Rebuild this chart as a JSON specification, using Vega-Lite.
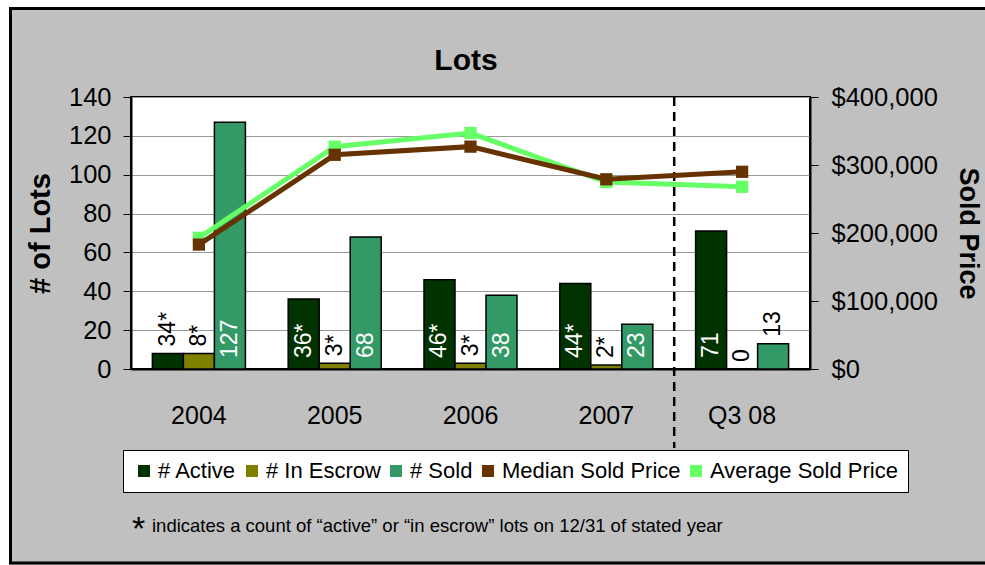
{
  "$schema": "https://vega.github.io/schema/vega-lite/v6.json",
  "width": 679,
  "height": 272,
  "autosize": "none",
  "padding": {"left": 131, "top": 97, "right": 175, "bottom": 196},
  "background": "#C0C0C0",
  "config": {
    "view": {"fill": "white", "stroke": "black", "strokeWidth": 2},
    "font": "Liberation Sans"
  },
  "datasets": {
    "bars": [
      {"year": "2004", "series": "# Active", "count": 8, "label": "34*"},
      {"year": "2004", "series": "# In Escrow", "count": 8, "label": "8*"},
      {"year": "2004", "series": "# Sold", "count": 127, "label": "127"},
      {"year": "2005", "series": "# Active", "count": 36, "label": "36*"},
      {"year": "2005", "series": "# In Escrow", "count": 3, "label": "3*"},
      {"year": "2005", "series": "# Sold", "count": 68, "label": "68"},
      {"year": "2006", "series": "# Active", "count": 46, "label": "46*"},
      {"year": "2006", "series": "# In Escrow", "count": 3, "label": "3*"},
      {"year": "2006", "series": "# Sold", "count": 38, "label": "38"},
      {"year": "2007", "series": "# Active", "count": 44, "label": "44*"},
      {"year": "2007", "series": "# In Escrow", "count": 2, "label": "2*"},
      {"year": "2007", "series": "# Sold", "count": 23, "label": "23"},
      {"year": "Q3 08", "series": "# Active", "count": 71, "label": "71"},
      {"year": "Q3 08", "series": "# In Escrow", "count": 0, "label": "0"},
      {"year": "Q3 08", "series": "# Sold", "count": 13, "label": "13"}
    ],
    "prices": [
      {"year": "2004", "series": "Median Sold Price", "price": 183000},
      {"year": "2005", "series": "Median Sold Price", "price": 315000},
      {"year": "2006", "series": "Median Sold Price", "price": 327000},
      {"year": "2007", "series": "Median Sold Price", "price": 279000},
      {"year": "Q3 08", "series": "Median Sold Price", "price": 290000},
      {"year": "2004", "series": "Average Sold Price", "price": 193000},
      {"year": "2005", "series": "Average Sold Price", "price": 327000},
      {"year": "2006", "series": "Average Sold Price", "price": 347000},
      {"year": "2007", "series": "Average Sold Price", "price": 275000},
      {"year": "Q3 08", "series": "Average Sold Price", "price": 268000}
    ]
  },
  "layer": [
    {
      "data": {"values": [{}]},
      "encoding": {
        "x": {"datum": -0.19293, "type": "quantitative", "scale": {"domain": [0, 1], "nice": false, "zero": false}, "axis": null},
        "y": {"datum": 1.35662, "type": "quantitative", "scale": {"domain": [0, 1], "nice": false, "zero": false}, "axis": null}
      },
      "layer": [
        {
          "mark": {"type": "rect", "fill": null, "fillOpacity": 0, "stroke": "white", "strokeWidth": 18},
          "encoding": {"x2": {"datum": 1.27982}, "y2": {"datum": -0.84926}}
        },
        {
          "mark": {"type": "rect", "fill": null, "fillOpacity": 0, "stroke": "black", "strokeWidth": 3},
          "encoding": {
            "x": {"datum": -0.17747, "type": "quantitative"},
            "x2": {"datum": 1.27982},
            "y": {"datum": 1.32537, "type": "quantitative"},
            "y2": {"datum": -0.71324}
          }
        },
        {
          "mark": {"type": "rule", "strokeDash": [9, 6], "strokeWidth": 2.5, "color": "black"},
          "encoding": {
            "x": {"datum": 0.8, "type": "quantitative"},
            "y": {"datum": 1, "type": "quantitative"},
            "y2": {"datum": -0.2904}
          }
        },
        {
          "mark": {"type": "text", "text": "Lots", "align": "center", "baseline": "alphabetic", "fontSize": 30, "fontWeight": "bold", "color": "black"},
          "encoding": {
            "x": {"datum": 0.4934, "type": "quantitative"},
            "y": {"datum": 1.0993, "type": "quantitative"}
          }
        },
        {
          "mark": {"type": "text", "text": "*", "align": "left", "baseline": "middle", "fontSize": 34, "dx": 1, "dy": 6, "color": "black"},
          "encoding": {
            "x": {"datum": 0, "type": "quantitative"},
            "y": {"datum": -0.5714, "type": "quantitative"}
          }
        },
        {
          "mark": {"type": "text", "text": "indicates a count of “active” or “in escrow” lots on 12/31 of stated year", "align": "left", "baseline": "middle", "fontSize": 18.5, "dx": 21, "color": "black"},
          "encoding": {
            "x": {"datum": 0, "type": "quantitative"},
            "y": {"datum": -0.5786, "type": "quantitative"}
          }
        }
      ]
    },
    {
      "encoding": {
        "x": {
          "field": "year", "type": "nominal",
          "scale": {"domain": ["2004", "2005", "2006", "2007", "Q3 08"], "paddingInner": 0, "paddingOuter": 0},
          "axis": {"title": null, "labelAngle": 0, "labelFontSize": 25, "labelPadding": 34, "ticks": false, "domainColor": "black", "domainWidth": 2, "labelColor": "black"}
        }
      },
      "layer": [
        {
          "data": {"name": "bars"},
          "encoding": {
            "xOffset": {"field": "series", "type": "nominal", "scale": {"domain": ["# Active", "# In Escrow", "# Sold"], "paddingInner": 0, "paddingOuter": 0.69}},
            "y": {
              "field": "count", "type": "quantitative", "title": "# of Lots",
              "scale": {"domain": [0, 140], "nice": false},
              "axis": {"values": [0, 20, 40, 60, 80, 100, 120, 140], "labelOverlap": false, "grid": true, "gridColor": "#999999", "gridWidth": 1, "tickColor": "black", "tickSize": 8, "domainColor": "black", "domainWidth": 2, "labelFontSize": 25.5, "labelColor": "black", "labelPadding": 12, "titleFont": "Liberation Sans", "titleFontWeight": "bold", "titleFontSize": 29, "titleColor": "black", "titlePadding": 13}
            }
          },
          "layer": [
            {
              "mark": {"type": "bar", "stroke": "black", "strokeWidth": 1.5},
              "encoding": {
                "color": {
                  "field": "series", "type": "nominal",
                  "scale": {"domain": ["# Active", "# In Escrow", "# Sold", "Median Sold Price", "Average Sold Price"], "range": ["#003300", "#808000", "#339966", "#663300", "#66FF66"]},
                  "legend": {"orient": "none", "legendX": -8, "legendY": 353, "direction": "horizontal", "title": null, "fillColor": "white", "strokeColor": "black", "padding": 10, "labelFontSize": 22, "labelColor": "black", "labelLimit": 400, "labelOffset": 3, "columnPadding": 4, "symbolType": "square", "symbolSize": 110, "symbolStrokeColor": "black", "symbolStrokeWidth": 1.5, "symbolOpacity": 1}
                }
              }
            },
            {
              "transform": [{"filter": "datum.count >= 20"}],
              "mark": {"type": "text", "angle": 270, "align": "left", "baseline": "middle", "dx": 11, "fontSize": 23, "color": "white"},
              "encoding": {
                "y": {"value": {"expr": "height"}},
                "text": {"field": "label"}
              }
            },
            {
              "transform": [{"filter": "datum.count < 20"}],
              "mark": {"type": "text", "angle": 270, "align": "left", "baseline": "middle", "dx": 7, "fontSize": 23, "color": "black"},
              "encoding": {
                "text": {"field": "label"}
              }
            }
          ]
        },
        {
          "data": {"name": "prices"},
          "encoding": {
            "y": {
              "field": "price", "type": "quantitative", "title": "Sold Price",
              "scale": {"domain": [0, 400000], "nice": false},
              "axis": {"orient": "right", "values": [0, 100000, 200000, 300000, 400000], "labelOverlap": false, "format": "$,.0f", "grid": false, "tickColor": "black", "tickSize": 8, "domainColor": "black", "domainWidth": 2, "labelFontSize": 25.5, "labelColor": "black", "labelPadding": 13, "titleFont": "Liberation Sans", "titleFontWeight": "bold", "titleFontSize": 27, "titleColor": "black", "titlePadding": 16, "titleAngle": 90}
            },
            "color": {
              "field": "series", "type": "nominal",
              "scale": {"domain": ["# Active", "# In Escrow", "# Sold", "Median Sold Price", "Average Sold Price"], "range": ["#003300", "#808000", "#339966", "#663300", "#66FF66"]}
            }
          },
          "layer": [
            {
              "transform": [{"filter": "datum.series == 'Average Sold Price'"}],
              "mark": {"type": "line", "strokeWidth": 5, "point": {"shape": "square", "size": 150, "filled": true, "opacity": 1}}
            },
            {
              "transform": [{"filter": "datum.series == 'Median Sold Price'"}],
              "mark": {"type": "line", "strokeWidth": 5, "point": {"shape": "square", "size": 150, "filled": true, "opacity": 1}}
            }
          ]
        }
      ],
      "resolve": {"scale": {"y": "independent"}}
    }
  ],
  "resolve": {"scale": {"x": "independent", "y": "independent"}}
}
